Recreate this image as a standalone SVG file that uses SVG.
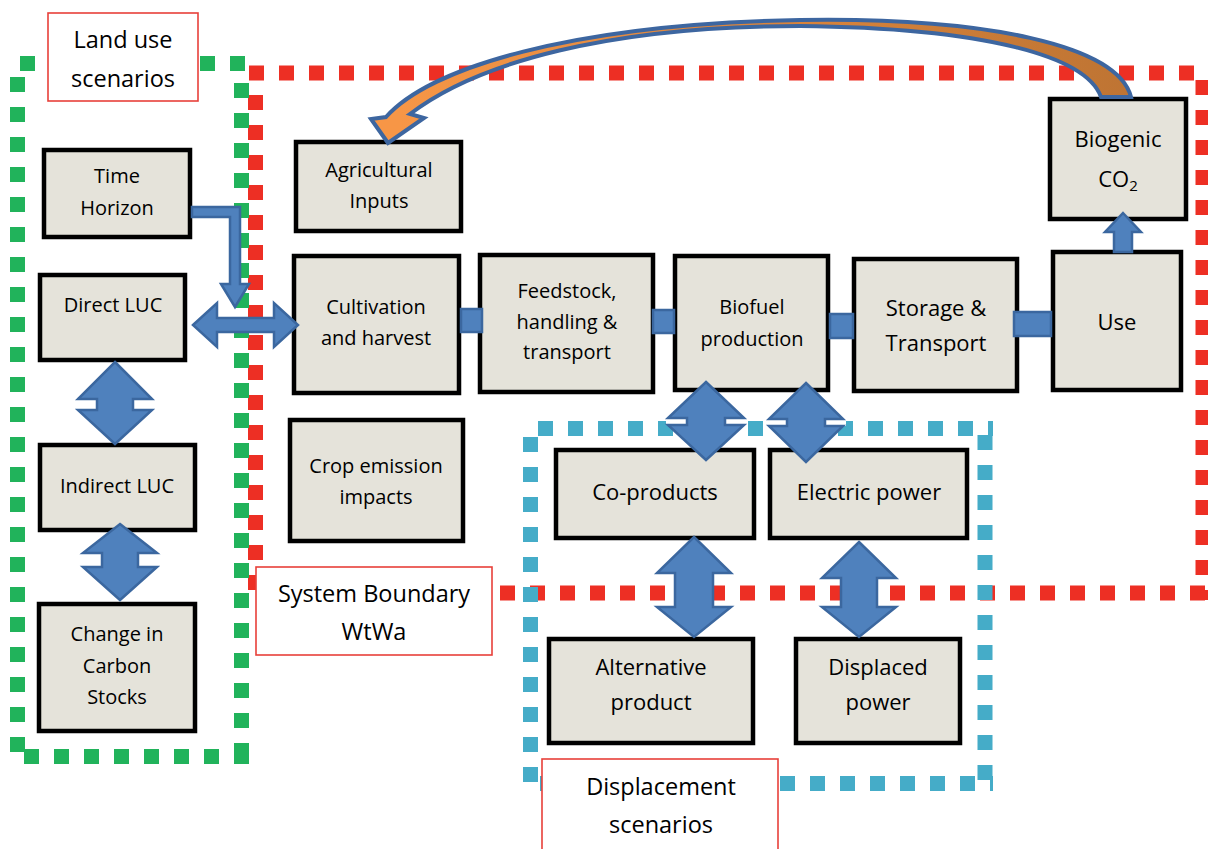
<svg xmlns="http://www.w3.org/2000/svg" width="1208" height="849" viewBox="0 0 1208 849">
<defs>
<style>
.bd{fill:none;stroke-width:15;stroke-dasharray:15 15;stroke-linecap:butt}
.green{stroke:#21B35B}
.red{stroke:#ED2F24}
.cyan{stroke:#45ACC8}
.node rect{fill:#E5E3DA;stroke:#000;stroke-width:4.5}
.lbl rect{fill:#fff;stroke:#E8403A;stroke-width:1.6}
text{font-family:"Open Sans","Liberation Sans",sans-serif;fill:#000;text-anchor:middle}
.s{font-size:20px}
.m{font-size:22px}
.l{font-size:23.5px}
.arr{fill:#4F81BD;stroke:#3B679F;stroke-width:2.5;stroke-linejoin:miter}
</style>
<linearGradient id="og" gradientUnits="userSpaceOnUse" x1="400" y1="0" x2="1130" y2="0">
<stop offset="0" stop-color="#F79646"/>
<stop offset="1" stop-color="#BE7433"/>
</linearGradient>
</defs>
<rect width="1208" height="849" fill="#fff"/>
<g id="boundaries">
<path class="bd red" d="M249 73H1208M255.5 95V600M260 593H1208M1203 80V600"/>
<path class="bd green" d="M20 63.5H249M241.5 83V760M24 756.5H250M17.5 77V760"/>
<path class="bd cyan" d="M538 428.5H993M530.5 437V792M985 435V792M540 783.5H993"/>
</g>
<g id="n-time" class="node"><rect x="44" y="150" width="146" height="87"/><text class="s" x="117" y="183">Time</text><text class="s" x="117" y="215">Horizon</text></g>
<g id="n-direct" class="node"><rect x="40" y="275" width="145" height="85"/><text class="s" x="113" y="312">Direct LUC</text></g>
<g id="n-indirect" class="node"><rect x="40" y="445" width="155" height="85"/><text class="s" x="117" y="493">Indirect LUC</text></g>
<g id="n-change" class="node"><rect x="39" y="604" width="156" height="127"/><text class="s" x="117" y="641">Change in</text><text class="s" x="117" y="673">Carbon</text><text class="s" x="117" y="704">Stocks</text></g>
<g id="n-agri" class="node"><rect x="296" y="142" width="165" height="89"/><text class="s" x="379" y="177">Agricultural</text><text class="s" x="379" y="208">Inputs</text></g>
<g id="n-cult" class="node"><rect x="294" y="256" width="165" height="137"/><text class="s" x="376" y="314">Cultivation</text><text class="s" x="376" y="345">and harvest</text></g>
<g id="n-feed" class="node"><rect x="480" y="255" width="173" height="137"/><text class="s" x="567" y="298">Feedstock,</text><text class="s" x="567" y="329">handling &amp;</text><text class="s" x="567" y="359">transport</text></g>
<g id="n-biofuel" class="node"><rect x="675" y="256" width="153" height="134"/><text class="s" x="752" y="314">Biofuel</text><text class="s" x="752" y="346">production</text></g>
<g id="n-storage" class="node"><rect x="854" y="259" width="163" height="132"/><text class="m" x="936" y="316">Storage &amp;</text><text class="m" x="936" y="351">Transport</text></g>
<g id="n-use" class="node"><rect x="1053" y="252" width="128" height="138"/><text class="m" x="1117" y="330">Use</text></g>
<g id="n-biogenic" class="node"><rect x="1050" y="99" width="136" height="120"/><text class="m" x="1118" y="147">Biogenic</text><text class="m" x="1118" y="187">CO<tspan font-size="15" dy="4">2</tspan></text></g>
<g id="n-crop" class="node"><rect x="290" y="420" width="173" height="121"/><text class="s" x="376" y="473">Crop emission</text><text class="s" x="376" y="504">impacts</text></g>
<g id="n-coprod" class="node"><rect x="556" y="450" width="198" height="88"/><text class="m" x="655" y="500">Co-products</text></g>
<g id="n-elec" class="node"><rect x="770" y="450" width="197" height="88"/><text class="m" x="869" y="500">Electric power</text></g>
<g id="n-alt" class="node"><rect x="549" y="639" width="204" height="104"/><text class="m" x="651" y="675">Alternative</text><text class="m" x="651" y="710">product</text></g>
<g id="n-disp" class="node"><rect x="796" y="639" width="164" height="104"/><text class="m" x="878" y="675">Displaced</text><text class="m" x="878" y="710">power</text></g>
<g id="connectors">
<path class="arr" d="M192 207H240V284H249L235 307L221 284H230V217H192Z"/>
<path class="arr" d="M193 325L217 303V318H274V303L298 325L274 347V332H217V347Z"/>
<path class="arr" d="M115 362L152 399H133V410H152L115 444L78 410H97V399H78Z"/>
<path class="arr" d="M120 524L157 553H138V567H157L120 600L83 567H102V553H83Z"/>
<rect x="666" y="418" width="80" height="7" fill="#fff"/>
<path class="arr" d="M706 382L744 418H725V425H744L706 460L668 425H687V418H668Z"/>
<rect x="768" y="419" width="78" height="7" fill="#fff"/>
<path class="arr" d="M806 383L843 419H825V426H843L806 462L769 426H787V419H769Z"/>
<path class="arr" d="M694 537L731 573H713V607H731L694 637L657 607H675V573H657Z"/>
<path class="arr" d="M859 542L896 578H877V607H896L859 637L822 607H841V578H822Z"/>
<rect class="arr" x="461" y="309" width="21" height="23"/>
<rect class="arr" x="653" y="310" width="21" height="23"/>
<rect class="arr" x="830" y="314" width="23" height="24"/>
<rect class="arr" x="1014" y="312" width="37" height="24"/>
<path class="arr" d="M1123 213L1141 232H1132V252H1114V232H1105Z"/>
<path d="M388 143L371 119L386 117C430 68 570 24 800 20C985 17 1118 45 1131 97L1101 97C1086 56 985 28 800 26C610 26 478 62 410 114L424 118Z" fill="url(#og)" stroke="#3D66A0" stroke-width="4" stroke-linejoin="miter"/>
</g>
<g id="l-land" class="lbl"><rect x="48" y="13" width="150" height="88"/><text class="l" x="123" y="48">Land use</text><text class="l" x="123" y="87">scenarios</text></g>
<g id="l-system" class="lbl"><rect x="256" y="567" width="236" height="88"/><text class="l" x="374" y="602">System Boundary</text><text class="l" x="374" y="640">WtWa</text></g>
<g id="l-displ" class="lbl"><rect x="542" y="759" width="236" height="100"/><text class="l" x="661" y="795">Displacement</text><text class="l" x="661" y="833">scenarios</text></g>
</svg>
